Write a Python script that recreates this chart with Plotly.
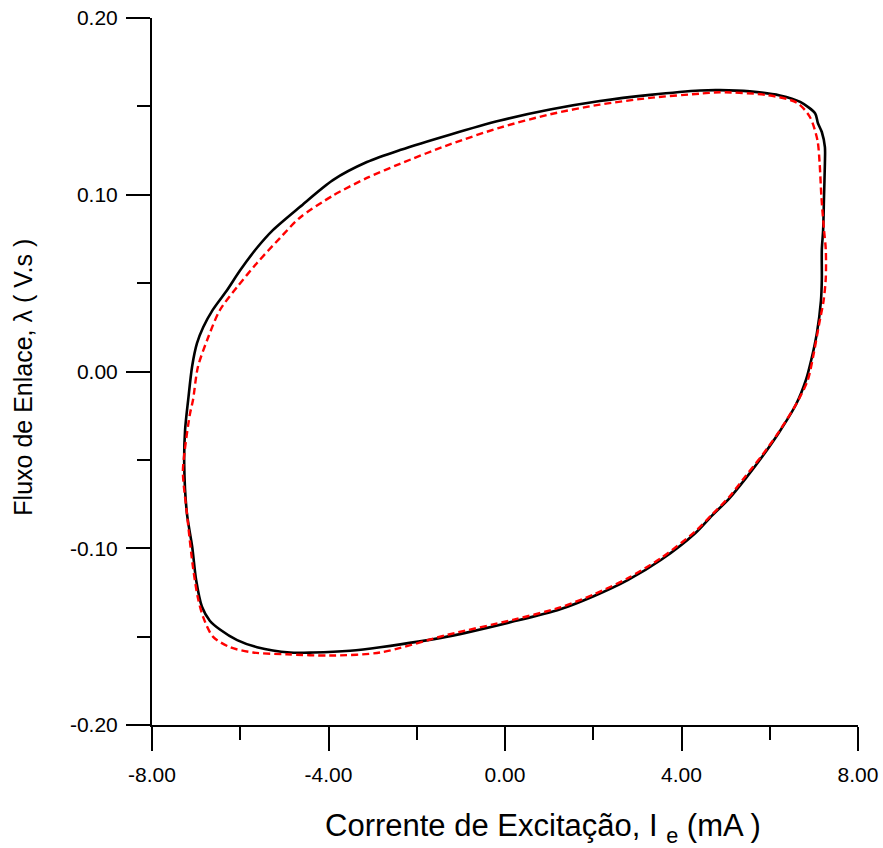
import plotly.graph_objects as go

# Measured loop (black, solid)
meas_x = [7.25, 7.25, 7.18, 7.09, 7.03, 6.69, 6.23, 5.55, 4.87, 4.42, 3.29, 2.15, 1.02, -0.11,
          -1.25, -2.38, -3.13, -3.90, -4.65, -5.26, -5.62, -6.01, -6.30, -6.62, -6.84, -6.98,
          -7.09, -7.18, -7.25, -7.27, -7.21, -7.09, -7.00, -6.87, -6.69, -6.46, -6.07, -5.62,
          -4.87, -4.35, -3.51, -2.83, -1.31, 0.18, 1.25, 2.02, 2.78, 3.54, 4.31, 4.69, 5.08,
          5.46, 5.84, 6.21, 6.60, 6.82, 6.94, 7.07, 7.16, 7.18, 7.18, 7.21, 7.23, 7.25]
meas_y = [0.118, 0.127, 0.1355, 0.1406, 0.146, 0.1525, 0.1562, 0.1585, 0.1592, 0.1590, 0.1565,
          0.1530, 0.1482, 0.1420, 0.1340, 0.1253, 0.1185, 0.1083, 0.0931, 0.080, 0.070, 0.057,
          0.046, 0.035, 0.025, 0.016, 0.003, -0.016, -0.033, -0.052, -0.080, -0.099, -0.118,
          -0.133, -0.141, -0.146, -0.152, -0.156, -0.159, -0.159, -0.158, -0.156, -0.150,
          -0.1415, -0.1345, -0.127, -0.118, -0.1065, -0.0915, -0.0815, -0.0719, -0.0603,
          -0.0478, -0.0345, -0.0184, -0.0048, 0.0065, 0.022, 0.040, 0.052, 0.069, 0.080, 0.099,
          0.118]

# Simulated loop (red, dashed)
sim_x = [7.13, 7.08, 6.91, 6.62, 5.94, 4.87, 4.42, 3.29, 2.15, 1.02, -0.11, -1.25, -2.38,
         -3.13, -3.90, -4.65, -5.10, -5.62, -6.07, -6.46, -6.75, -6.96, -7.07, -7.14, -7.25,
         -7.30, -7.21, -7.07, -6.96, -6.84, -6.62, -6.23, -5.71, -4.94, -3.97, -2.83, -1.31,
         0.18, 1.25, 2.02, 2.78, 3.54, 4.31, 4.69, 5.08, 5.46, 5.84, 6.21, 6.62, 6.86, 6.98,
         7.12, 7.22, 7.27, 7.27, 7.23, 7.17, 7.13]
sim_y = [0.118, 0.131, 0.144, 0.152, 0.1564, 0.158, 0.1572, 0.1548, 0.1510, 0.1455, 0.1380,
         0.1285, 0.1175, 0.1095, 0.0995, 0.087, 0.0755, 0.0614, 0.0478, 0.0348, 0.0178,
         0.0025, -0.016, -0.024, -0.043, -0.057, -0.080, -0.111, -0.128, -0.139, -0.150,
         -0.156, -0.159, -0.160, -0.1607, -0.159, -0.149, -0.1405, -0.1335, -0.126, -0.117,
         -0.1055, -0.0905, -0.081, -0.071, -0.059, -0.047, -0.034, -0.0175, -0.005, 0.008,
         0.027, 0.040, 0.053, 0.069, 0.080, 0.099, 0.118]

x_major = [-8, -4, 0, 4, 8]
x_labels = ["-8.00", "-4.00", "0.00", "4.00", "8.00"]
x_minor = [-6, -2, 2, 6]
y_major = [-0.2, -0.1, 0.0, 0.1, 0.2]
y_labels = ["-0.20", "-0.10", "0.00", "0.10", "0.20"]
y_minor = [-0.15, -0.05, 0.05, 0.15]

FONT = "Liberation Sans, Arial, sans-serif"

fig = go.Figure()
fig.add_trace(go.Scatter(x=meas_x, y=meas_y, mode="lines",
                         line=dict(color="black", width=2.6, shape="spline", smoothing=0.8),
                         showlegend=False, hoverinfo="skip"))
fig.add_trace(go.Scatter(x=sim_x, y=sim_y, mode="lines",
                         line=dict(color="#ff0000", width=2.4, dash="7px,4px",
                                   shape="spline", smoothing=0.8),
                         showlegend=False, hoverinfo="skip"))

fig.update_layout(
    width=883, height=848,
    margin=dict(l=152, r=25, t=18, b=123),
    paper_bgcolor="white", plot_bgcolor="white",
    font=dict(family=FONT, color="black"),
    xaxis=dict(range=[-8, 8], showgrid=False, zeroline=False, automargin=False,
               showline=True, linecolor="black", linewidth=2,
               tickmode="array", tickvals=x_major, ticktext=x_labels,
               ticks="outside", ticklen=24, tickwidth=2, tickcolor="black",
               tickfont=dict(size=21, family=FONT), ticklabelstandoff=6,
               minor=dict(tickmode="array", tickvals=x_minor,
                          ticks="outside", ticklen=13, tickwidth=2, tickcolor="black")),
    yaxis=dict(range=[-0.2, 0.2], showgrid=False, zeroline=False, automargin=False,
               showline=True, linecolor="black", linewidth=2,
               tickmode="array", tickvals=y_major, ticktext=y_labels,
               ticks="outside", ticklen=24, tickwidth=2, tickcolor="black",
               tickfont=dict(size=21, family=FONT), ticklabelstandoff=4,
               minor=dict(tickmode="array", tickvals=y_minor,
                          ticks="outside", ticklen=13, tickwidth=2, tickcolor="black")),
    annotations=[
        dict(text="Corrente de Excitação, I <sub>e</sub> (mA )", xref="paper", yref="paper",
             x=0.554, y=-0.146, xanchor="center", yanchor="middle", showarrow=False,
             font=dict(size=31, family=FONT)),
        dict(text="Fluxo de Enlace, λ ( V.s )", xref="paper", yref="paper",
             x=-0.182, y=0.492, xanchor="center", yanchor="middle", showarrow=False,
             textangle=-90, font=dict(size=25, family=FONT)),
    ],
)

fig.write_html("out.html")
